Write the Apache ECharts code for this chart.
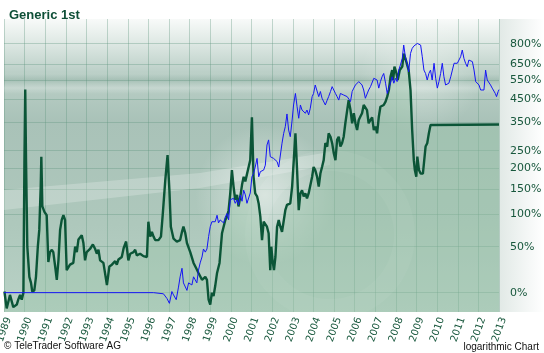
<!DOCTYPE html>
<html>
<head>
<meta charset="utf-8">
<script src="https://cdn.jsdelivr.net/npm/echarts@6/dist/echarts.min.js"></script>
<style>
  html, body { margin: 0; padding: 0; background: #fff; }
  #chart { width: 544px; height: 353px; }
</style>
</head>
<body>
<div id="chart"></div>
<script>
// Generic 1st - Performance in %, logarithmisch (TeleTrader-Stil)
const chartTitle = 'Generic 1st';

// Tick-Beschriftungen der rechten Achse (Prozent)
const tickPercents = [0, 50, 100, 150, 200, 250, 350, 450, 550, 650, 800];

// Gruene Linie (Generic 1st), Zeitpunkt als Dezimaljahr, Wert in %
const greenDates = [
  1989.02, 1989.13, 1989.29, 1989.45, 1989.62, 1989.69, 1989.78, 1989.86, 1989.94, 1989.99,
  1990.03, 1990.07, 1990.13, 1990.23, 1990.31, 1990.37, 1990.47, 1990.55, 1990.64, 1990.71,
  1990.78, 1990.81, 1990.86, 1990.96, 1991.07, 1991.15, 1991.23, 1991.32, 1991.39, 1991.48,
  1991.56, 1991.64, 1991.72, 1991.80, 1991.88, 1991.96, 1992.04, 1992.12, 1992.20, 1992.36,
  1992.45, 1992.53, 1992.61, 1992.77, 1992.85, 1992.93, 1993.01, 1993.17, 1993.31, 1993.42,
  1993.50, 1993.58, 1993.66, 1993.82, 1993.99, 1994.11, 1994.23, 1994.31, 1994.39, 1994.47,
  1994.55, 1994.63, 1994.71, 1994.80, 1994.92, 1995.03, 1995.12, 1995.28, 1995.36, 1995.44,
  1995.60, 1995.76, 1995.93, 1996.00, 1996.09, 1996.17, 1996.25, 1996.33, 1996.41, 1996.49,
  1996.61, 1996.70, 1996.82, 1996.93, 1997.02, 1997.09, 1997.22, 1997.38, 1997.54, 1997.63,
  1997.70, 1997.79, 1997.87, 1998.03, 1998.19, 1998.32, 1998.43, 1998.60, 1998.76, 1998.84,
  1998.92, 1999.00, 1999.08, 1999.16, 1999.24, 1999.33, 1999.45, 1999.57, 1999.73, 1999.81,
  1999.89, 1999.97, 2000.05, 2000.13, 2000.21, 2000.30, 2000.37, 2000.46, 2000.54, 2000.62,
  2000.70, 2000.78, 2000.86, 2000.94, 2001.02, 2001.10, 2001.18, 2001.27, 2001.35, 2001.43,
  2001.51, 2001.59, 2001.67, 2001.75, 2001.83, 2001.91, 2001.96, 2002.02, 2002.09, 2002.16,
  2002.24, 2002.32, 2002.40, 2002.48, 2002.56, 2002.64, 2002.72, 2002.80, 2002.88, 2002.97,
  2003.04, 2003.13, 2003.21, 2003.29, 2003.37, 2003.45, 2003.53, 2003.61, 2003.69, 2003.77,
  2003.85, 2003.94, 2004.01, 2004.09, 2004.18, 2004.26, 2004.34, 2004.42, 2004.50, 2004.58,
  2004.67, 2004.74, 2004.83, 2004.91, 2004.99, 2005.07, 2005.15, 2005.23, 2005.31, 2005.39,
  2005.47, 2005.55, 2005.64, 2005.71, 2005.80, 2005.88, 2005.96, 2006.04, 2006.12, 2006.20,
  2006.28, 2006.36, 2006.44, 2006.52, 2006.60, 2006.68, 2006.77, 2006.85, 2006.93, 2007.01,
  2007.09, 2007.17, 2007.25, 2007.33, 2007.41, 2007.50, 2007.58, 2007.66, 2007.74, 2007.82,
  2007.87, 2007.93, 2008.03, 2008.09, 2008.19, 2008.31, 2008.38, 2008.46, 2008.54, 2008.62,
  2008.71, 2008.79, 2008.87, 2008.92, 2008.99, 2009.04, 2009.12, 2009.20, 2009.31, 2009.36,
  2009.44, 2009.52, 2009.60, 2009.68, 2013.00
];
const greenValues = [
  1, -13, -2, -12, -10, -6, -2, -6, 0, 216,
  500, 216, 50, 15, 9, 1, 2, 15, 50, 74,
  155, 232, 114, 104, 98, 31, 43, 46, 43, 26,
  12, 33, 74, 90, 98, 90, 22, 24, 28, 30,
  50, 43, 60, 66, 55, 33, 43, 47, 53, 47,
  41, 46, 33, 30, 7, 26, 28, 30, 32, 28,
  34, 32, 37, 48, 57, 33, 41, 43, 46, 39,
  41, 38, 37, 87, 64, 71, 64, 59, 57, 59,
  64, 101, 170, 237, 147, 79, 61, 57, 59, 71,
  79, 69, 55, 43, 30, 24, 19, 12, 15, 12,
  -6, -10, 0, -3, 6, 19, 30, 69, 90, 95,
  107, 140, 195, 155, 127, 137, 114, 134, 159, 178,
  167, 170, 203, 222, 370, 178, 140, 134, 119, 95,
  59, 87, 85, 79, 69, 22, 50, 33, 22, 37,
  79, 90, 79, 71, 74, 107, 117, 117, 120, 155,
  213, 308, 195, 107, 140, 147, 134, 140, 130, 140,
  143, 178, 203, 195, 178, 155, 186, 203, 222, 274,
  263, 308, 296, 274, 242, 222, 285, 296, 263, 274,
  296, 346, 401, 447, 401, 346, 387, 346, 320, 359,
  373, 387, 424, 416, 401, 346, 359, 370, 320, 333,
  308, 370, 416, 409, 424, 440, 464, 498, 572, 613,
  553, 635, 592, 553, 613, 635, 725, 690, 679, 613,
  498, 320, 222, 195, 178, 232, 195, 186, 186, 213,
  263, 274, 308, 339, 341
];

// Blaue Linie (Vergleichswert)
const blueDates = [
  1989.00, 1996.25, 1996.73, 1996.90, 1997.02, 1997.14, 1997.22, 1997.35, 1997.46, 1997.54,
  1997.63, 1997.70, 1997.79, 1997.87, 1997.95, 1998.03, 1998.11, 1998.19, 1998.27, 1998.35,
  1998.43, 1998.51, 1998.60, 1998.67, 1998.76, 1998.84, 1998.92, 1999.00, 1999.08, 1999.16,
  1999.24, 1999.33, 1999.40, 1999.48, 1999.57, 1999.65, 1999.73, 1999.81, 1999.89, 1999.97,
  2000.05, 2000.13, 2000.21, 2000.30, 2000.37, 2000.46, 2000.54, 2000.62, 2000.70, 2000.78,
  2000.86, 2000.94, 2001.02, 2001.10, 2001.18, 2001.27, 2001.35, 2001.43, 2001.59, 2001.67,
  2001.75, 2001.83, 2001.91, 2002.07, 2002.24, 2002.32, 2002.40, 2002.48, 2002.56, 2002.64,
  2002.72, 2002.80, 2002.88, 2002.97, 2003.04, 2003.13, 2003.21, 2003.29, 2003.37, 2003.45,
  2003.53, 2003.61, 2003.69, 2003.77, 2003.85, 2003.94, 2004.01, 2004.09, 2004.18, 2004.26,
  2004.34, 2004.42, 2004.50, 2004.58, 2004.67, 2004.74, 2004.83, 2004.91, 2004.99, 2005.07,
  2005.15, 2005.23, 2005.31, 2005.39, 2005.47, 2005.55, 2005.64, 2005.71, 2005.80, 2005.88,
  2005.96, 2006.04, 2006.12, 2006.20, 2006.28, 2006.36, 2006.44, 2006.52, 2006.60, 2006.68,
  2006.77, 2006.85, 2006.93, 2007.01, 2007.09, 2007.17, 2007.25, 2007.33, 2007.41, 2007.50,
  2007.58, 2007.66, 2007.74, 2007.82, 2007.90, 2007.98, 2008.06, 2008.14, 2008.22, 2008.31,
  2008.38, 2008.46, 2008.54, 2008.62, 2008.71, 2008.79, 2008.87, 2009.04, 2009.12, 2009.20,
  2009.28, 2009.36, 2009.44, 2009.52, 2009.60, 2009.68, 2009.76, 2009.85, 2009.93, 2010.01,
  2010.09, 2010.17, 2010.25, 2010.33, 2010.41, 2010.49, 2010.57, 2010.66, 2010.74, 2010.82,
  2010.90, 2010.98, 2011.06, 2011.14, 2011.22, 2011.30, 2011.38, 2011.46, 2011.54, 2011.62,
  2011.71, 2011.79, 2011.87, 2011.94, 2012.03, 2012.11, 2012.19, 2012.27, 2012.35, 2012.43,
  2012.51, 2012.59, 2012.67, 2012.75, 2012.82, 2012.88, 2012.96, 2013.00
];
const blueValues = [
  0, 0, -1, -5, -9, 1, -2, -6, 5, 15,
  24, 9, 10, 2, 9, 10, 7, 15, 12, 9,
  22, 30, 37, 47, 43, 47, 64, 79, 87, 85,
  87, 98, 85, 90, 87, 85, 95, 101, 90, 127,
  127, 130, 120, 127, 117, 137, 124, 147, 137, 120,
  120, 141, 178, 186, 203, 227, 178, 191, 195, 208,
  268, 285, 232, 227, 218, 203, 208, 274, 308, 333,
  384, 320, 296, 359, 424, 480, 416, 366, 424, 401,
  394, 387, 401, 380, 409, 464, 480, 525, 535, 464,
  490, 456, 447, 424, 447, 464, 490, 516, 520, 480,
  464, 447, 480, 472, 472, 480, 464, 472, 440, 490,
  508, 525, 535, 544, 553, 525, 498, 456, 447, 498,
  516, 516, 563, 572, 553, 508, 544, 572, 592, 535,
  480, 508, 535, 572, 535, 563, 544, 613, 646, 690,
  789, 702, 657, 602, 726, 763, 781, 802, 802, 789,
  702, 613, 592, 553, 592, 613, 553, 657, 563, 508,
  544, 592, 657, 572, 525, 516, 535, 572, 613, 657,
  646, 657, 668, 702, 751, 690, 657, 635, 679, 690,
  668, 613, 544, 535, 525, 498, 490, 498, 613, 553,
  544, 525, 508, 498, 480, 464, 490, 500
];

// logarithmische Darstellung: Wert = log10(1 + p/100)
const toLog = p => Math.log10(1 + p / 100);
const greenData = greenDates.map((d, i) => [d, toLog(greenValues[i])]);
const blueData = blueDates.map((d, i) => [d, toLog(blueValues[i])]);
const tickLogs = tickPercents.map(toLog);

// weicher heller Fleck (radialer Verlauf)
const softLight = a => ({
  type: 'radial', x: 0.5, y: 0.5, r: 0.5,
  colorStops: [{ offset: 0, color: 'rgba(255,255,255,' + a + ')' }, { offset: 1, color: 'rgba(255,255,255,0)' }]
});

const chart = echarts.init(document.getElementById('chart'), null, { renderer: 'canvas' });

const option = {
  animation: false,
  backgroundColor: '#ffffff',
  title: {
    text: chartTitle,
    left: 4,
    top: 4,
    textStyle: { fontFamily: 'Liberation Sans, Arial', fontWeight: 'bold', fontSize: 13, color: '#0e4f37' }
  },
  grid: {
    left: 4, right: 45, top: 19, bottom: 41,
    containLabel: false,
    outerBoundsMode: 'none',
    show: true,
    borderWidth: 0,
    backgroundColor: {
      type: 'linear', x: 0, y: 0, x2: 0, y2: 1,
      colorStops: [
        { offset: 0, color: '#f8faf9' },
        { offset: 0.07, color: '#e2ebe7' },
        { offset: 0.18, color: '#bcd0c8' },
        { offset: 0.35, color: '#a9c2b8' },
        { offset: 0.7, color: '#aec8bc' },
        { offset: 1, color: '#b9d2c6' }
      ]
    }
  },
  graphic: [
    // heller Rand rechts neben dem Diagramm
    {
      type: 'rect', z: 0, silent: true,
      shape: { x: 499, y: 19, width: 45, height: 293 },
      style: {
        fill: {
          type: 'linear', x: 0, y: 0, x2: 1, y2: 0,
          colorStops: [{ offset: 0, color: '#e1e9e6' }, { offset: 1, color: '#ffffff' }]
        }
      }
    },
    // dunkler Streifen oben
    {
      type: 'rect', z: 1, silent: true,
      shape: { x: 4, y: 74, width: 495, height: 10 },
      style: {
        fill: {
          type: 'linear', x: 0, y: 0, x2: 0, y2: 1,
          colorStops: [
            { offset: 0, color: 'rgba(80,130,110,0)' },
            { offset: 0.6, color: 'rgba(80,130,110,0.18)' },
            { offset: 1, color: 'rgba(80,130,110,0)' }
          ]
        }
      }
    },
    {
      type: 'rect', z: 1, silent: true,
      shape: { x: 4, y: 84, width: 495, height: 10 },
      style: {
        fill: {
          type: 'linear', x: 0, y: 0, x2: 0, y2: 1,
          colorStops: [
            { offset: 0, color: 'rgba(255,255,255,0)' },
            { offset: 0.4, color: 'rgba(255,255,255,0.22)' },
            { offset: 1, color: 'rgba(255,255,255,0)' }
          ]
        }
      }
    },
    // heller schraeger Streifen
    {
      type: 'polygon', z: 1, silent: true,
      shape: { points: [[4, 190], [4, 210], [200, 188], [330, 165], [330, 152], [200, 173]] },
      style: { fill: 'rgba(255,255,255,0.22)' }
    },
    // helle Flaeche zwischen den Linien 1999-2003
    {
      type: 'ellipse', z: 1, silent: true,
      shape: { cx: 265, cy: 195, rx: 70, ry: 75 },
      style: { fill: softLight(0.5) }
    },
    // heller Bereich oben rechts (Logo)
    {
      type: 'ellipse', z: 1, silent: true,
      shape: { cx: 420, cy: 75, rx: 90, ry: 60 },
      style: { fill: softLight(0.35) }
    },
    {
      type: 'ring', z: 1, silent: true,
      shape: { cx: 330, cy: 235, r: 85, r0: 64 },
      style: { fill: 'rgba(255,255,255,0.08)' }
    },
    {
      type: 'text', left: 4, top: 341,
      style: { text: '\u00a9 TeleTrader Software AG', fontFamily: 'Liberation Sans, Arial', fontSize: 10, fill: '#111' }
    },
    {
      type: 'text', right: 5, top: 342,
      style: { text: 'logarithmic Chart', fontFamily: 'Liberation Sans, Arial', fontSize: 10, fill: '#111' }
    }
  ],
  xAxis: {
    type: 'value',
    min: 1989,
    max: 2013,
    interval: 1,
    axisLine: { show: false },
    axisTick: { show: false },
    splitLine: { show: true, lineStyle: { color: 'rgba(95,150,125,0.35)', width: 1 } },
    axisLabel: {
      rotate: 70,
      margin: 4,
      verticalAlign: 'top',
      fontFamily: 'DejaVu Sans',
      fontSize: 10,
      color: '#17573c',
      formatter: v => String(v)
    }
  },
  yAxis: {
    type: 'value',
    position: 'right',
    min: toLog(-15.7),
    max: toLog(1019),
    axisLine: { show: false },
    axisTick: { show: false, customValues: tickLogs },
    splitLine: { show: true, lineStyle: { color: 'rgba(95,150,125,0.35)', width: 1 } },
    axisLabel: {
      customValues: tickLogs,
      margin: 11,
      fontFamily: 'DejaVu Sans',
      fontSize: 11,
      color: '#17573c',
      formatter: v => Math.round((Math.pow(10, v) - 1) * 100) + '%'
    }
  },
  series: [
    {
      name: 'Generic 1st',
      type: 'line',
      data: greenData,
      showSymbol: false,
      z: 3,
      lineStyle: { color: '#0b5537', width: 2.4 },
      areaStyle: { origin: 'start', color: 'rgba(150,196,166,0.55)' }
    },
    {
      name: 'Vergleich',
      type: 'line',
      data: blueData,
      showSymbol: false,
      z: 4,
      lineStyle: { color: '#1515f5', width: 1 }
    }
  ]
};

chart.setOption(option);
</script>
</body>
</html>
